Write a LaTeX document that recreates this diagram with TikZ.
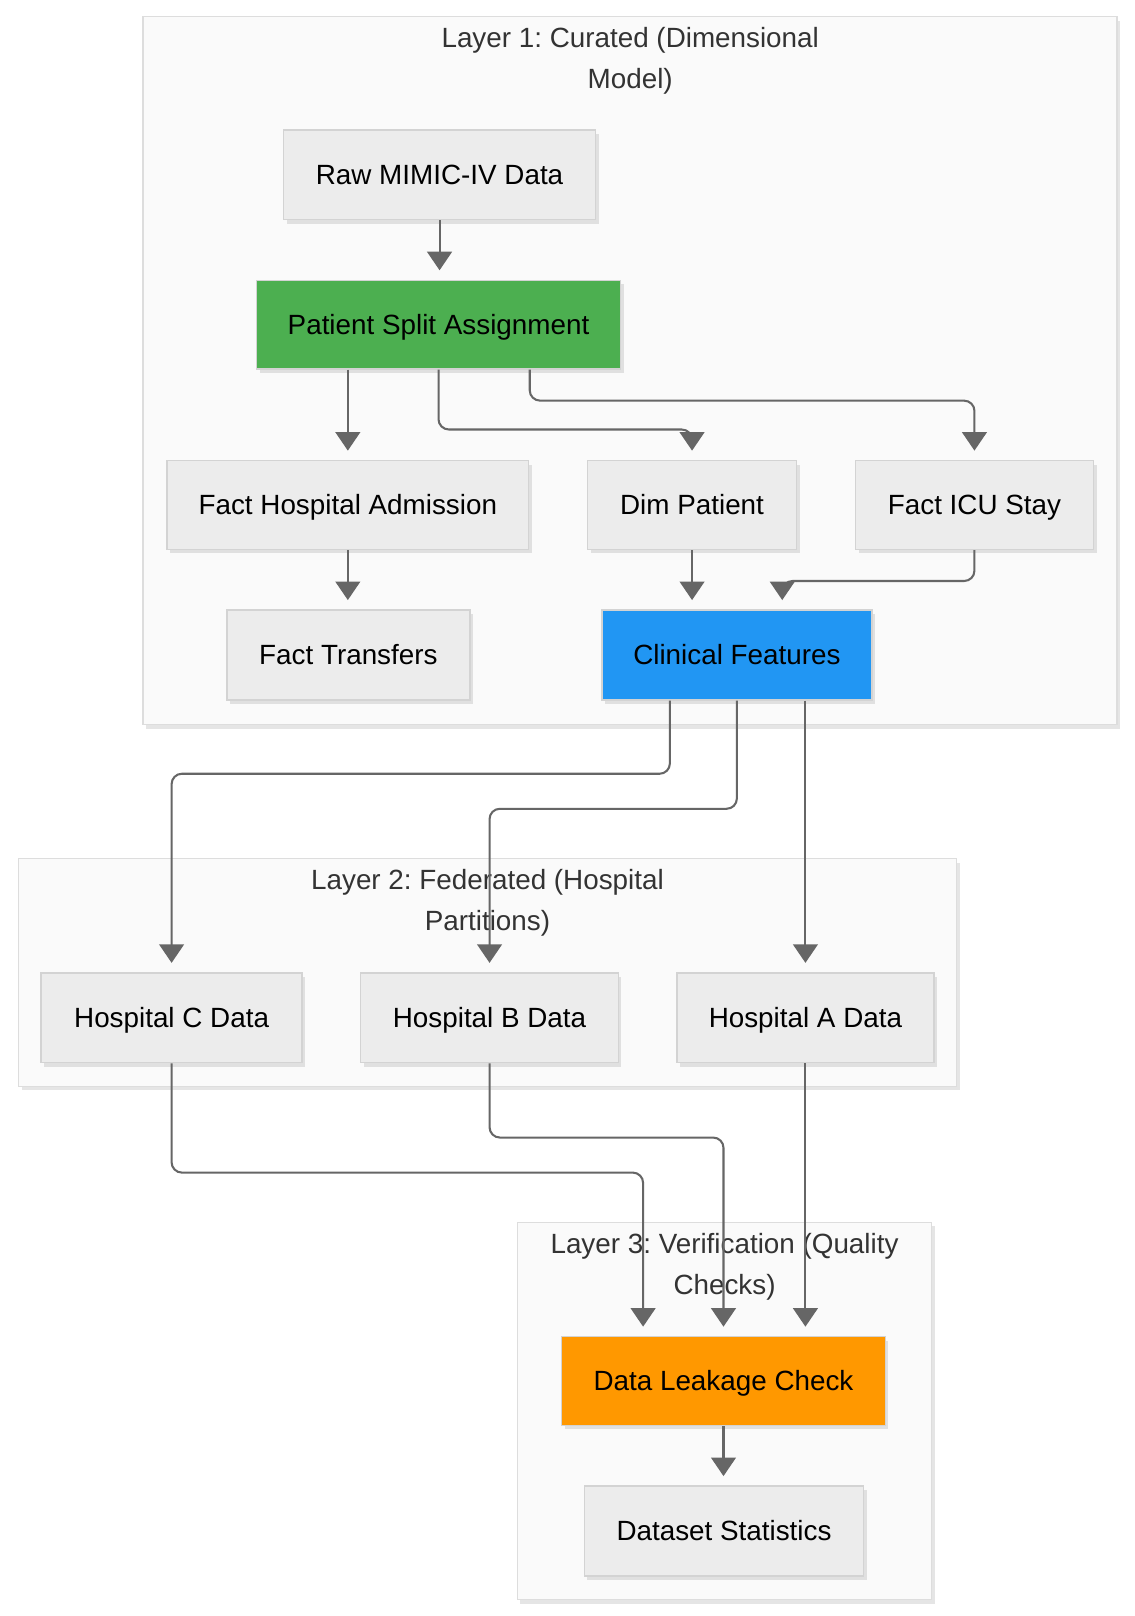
\documentclass[tikz,border=0pt]{standalone}
\usepackage{fontspec}
\setmainfont{Liberation Sans}
\frenchspacing
\usetikzlibrary{arrows.meta,shadows,calc}
\definecolor{nodefill}{HTML}{ECECEC}
\definecolor{nodeborder}{HTML}{D3D3D3}
\definecolor{clusterfill}{HTML}{FAFAFA}
\definecolor{clusterborder}{HTML}{DDDDDD}
\definecolor{edgecol}{HTML}{666666}
\definecolor{titlecol}{HTML}{333333}
\definecolor{greenfill}{HTML}{4CAF50}
\definecolor{bluefill}{HTML}{2196F3}
\definecolor{orangefill}{HTML}{FF9800}
\tikzset{
  x=1pt, y=-1pt,
  softshadow/.style={drop shadow={shadow xshift=3pt, shadow yshift=-4pt, fill=black, opacity=0.10}},
  box/.style={rectangle, draw=nodeborder, line width=1.5pt, fill=nodefill, softshadow,
    font=\frenchspacing\fontsize{27}{32}\selectfont, text=black, inner sep=0pt,
    text height=19.3pt, text depth=0pt},
  cluster/.style={draw=clusterborder, line width=1.5pt, fill=clusterfill, softshadow},
  clustertitle/.style={font=\frenchspacing\fontsize{27}{40}\selectfont, text=titlecol, align=center, inner sep=0pt},
  flow/.style={draw=edgecol, line width=2pt, rounded corners=10pt,
    -{Triangle[width=24pt,length=18pt]}, shorten >=9pt}
}
\begin{document}
\begin{tikzpicture}
\useasboundingbox[fill=white] (0,0) rectangle (1101,1568);
% clusters
\draw[cluster] (139,16) rectangle (1084,703);
\draw[cluster] (18,833) rectangle (928,1054);
\draw[cluster] (502,1186) rectangle (904,1552);
\node[clustertitle] (t1) at (611.5,59) {Layer 1: Curated (Dimensional\\Model)};
\node[clustertitle] (t2) at (473,876) {Layer 2: Federated (Hospital\\Partitions)};
\node[clustertitle] (t3) at (703,1229) {Layer 3: Verification (Quality\\Checks)};
% nodes
\node[box, minimum width=303pt, minimum height=87pt] (raw) at (426.5,169.5) {Raw MIMIC-IV Data};
\node[box, minimum width=353pt, minimum height=86pt, fill=greenfill] (psa) at (425.5,315) {Patient Split Assignment};
\node[box, minimum width=351pt, minimum height=86pt] (fha) at (337.5,490) {Fact Hospital Admission};
\node[box, minimum width=203pt, minimum height=86pt] (dim) at (671.5,490) {Dim Patient};
\node[box, minimum width=231pt, minimum height=86pt] (icu) at (945.5,490) {Fact ICU Stay};
\node[box, minimum width=236pt, minimum height=87pt] (ft) at (338,635.5) {Fact Transfers};
\node[box, minimum width=262pt, minimum height=87pt, fill=bluefill] (cf) at (715,635.5) {Clinical Features};
\node[box, minimum width=253pt, minimum height=87pt] (hc) at (166.5,987.5) {Hospital C Data};
\node[box, minimum width=250pt, minimum height=87pt] (hb) at (475,987.5) {Hospital B Data};
\node[box, minimum width=249pt, minimum height=87pt] (ha) at (781.5,987.5) {Hospital A Data};
\node[box, minimum width=314pt, minimum height=86pt, fill=orangefill] (dlc) at (702,1340) {Data Leakage Check};
\node[box, minimum width=271pt, minimum height=87pt] (ds) at (702.5,1485.5) {Dataset Statistics};
% edges
\draw[flow] (raw.south) -- (raw.south |- psa.north);
\draw[flow] (psa.south -| fha.north) -- (fha.north);
\draw[flow] (psa.south) -- ++(0,58) -| (dim.north);
\draw[flow] ([xshift=88.5pt]psa.south) -- ++(0,30) -| (icu.north);
\draw[flow] (fha.south) -- (fha.south |- ft.north);
\draw[flow] (dim.south) -- (dim.south |- cf.north);
\draw[flow] (icu.south) -- ++(0,30) -| ([xshift=44pt]cf.north);
\draw[flow] ([xshift=-65pt]cf.south) -- ++(0,71) -| (hc.north);
\draw[flow] (cf.south) -- ++(0,105) -| (hb.north);
\draw[flow] (cf.south -| ha.north) -- (ha.north);
\draw[flow] (hc.south) -- ++(0,106) -| ([xshift=-78pt]dlc.north);
\draw[flow] (hb.south) -- ++(0,72) -| (dlc.north);
\draw[flow] (ha.south) -- (ha.south |- dlc.north);
\draw[flow] (dlc.south) -- (dlc.south |- ds.north);
\end{tikzpicture}
\end{document}
